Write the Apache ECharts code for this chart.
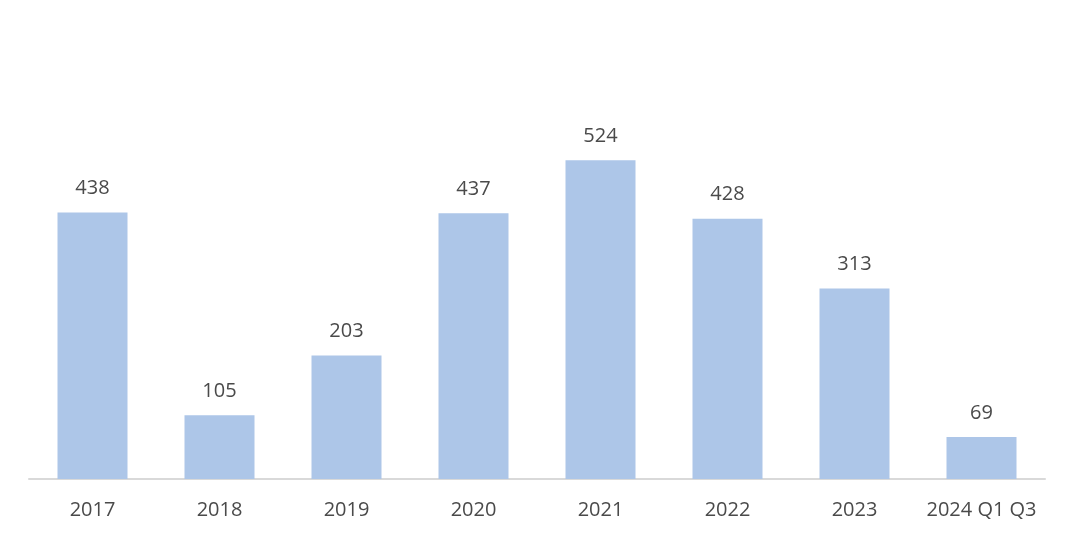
<!DOCTYPE html>
<html><head><meta charset="utf-8">
<script src="https://cdn.jsdelivr.net/npm/echarts@6/dist/echarts.min.js"></script>
<style>html,body{margin:0;padding:0;background:#fff}#c{width:1076px;height:538px}</style>
</head><body><div id="c"></div>
<script>
const categories = ['2017','2018','2019','2020','2021','2022','2023','2024 Q1 Q3'];
const values = [438,105,203,437,524,428,313,69];
const chart = echarts.init(document.getElementById('c'));
chart.setOption({
  animation:false,
  grid:{left:29,right:31,top:114,bottom:59},
  xAxis:{type:'category',data:categories,
    axisLine:{lineStyle:{color:'#d9d9d9',width:2}},
    axisTick:{show:false},
    axisLabel:{interval:0,hideOverlap:false,color:'#4a4a4a',fontSize:20,margin:21,fontFamily:'Open Sans'}},
  yAxis:{type:'value',min:0,max:600,show:false,splitLine:{show:false}},
  series:[{type:'bar',data:values,barWidth:70,
    itemStyle:{color:'#adc6e8'},
    label:{show:true,position:'top',distance:14,color:'#4a4a4a',fontSize:20,fontFamily:'Open Sans'}}]
});
</script></body></html>
